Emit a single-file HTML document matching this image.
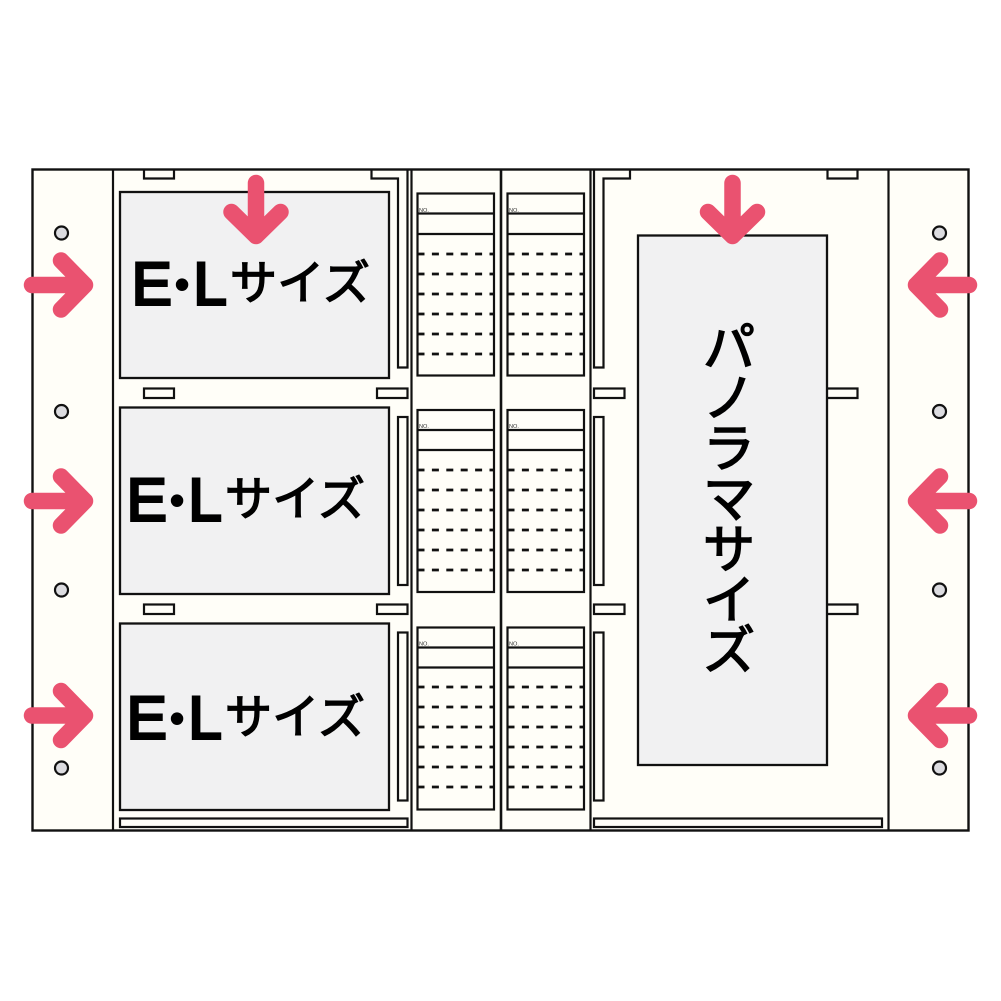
<!DOCTYPE html>
<html lang="ja"><head><meta charset="utf-8"><title>E・Lサイズ パノラマサイズ</title>
<style>
html,body{margin:0;padding:0;background:#fff}
svg{display:block}
.jp{font-family:"Liberation Sans","Noto Sans CJK JP",sans-serif;font-weight:400;fill:#000;stroke:#000;stroke-width:1.500px}
.el{font-family:"Liberation Sans",sans-serif;font-weight:400;font-size:60px;fill:#000;stroke:#000;stroke-width:3px;stroke-linejoin:miter}
.dot{font-family:"Liberation Sans",sans-serif;font-size:46px;fill:#000}
.no{font-family:"Liberation Sans",sans-serif;font-size:5.600px;fill:#333}
</style></head><body>
<svg width="1001" height="1001" viewBox="0 0 1001 1001" xmlns="http://www.w3.org/2000/svg">
<rect width="1001" height="1001" fill="#fff"/>
<rect x="32.5" y="169.5" width="936" height="661" fill="#fffef8" stroke="#111" stroke-width="2.400"/>
<g fill="none" stroke="#111" stroke-width="2.200">
<path d="M113 170V830M411.5 170V830M888.5 170V830M590.5 170V830"/>
<path d="M501 170V830" stroke-width="2.600"/>
</g>
<g fill="#f1f1f2" stroke="#111" stroke-width="2.300">
<rect x="120" y="192" width="269" height="186"/>
<rect x="120" y="407.5" width="269" height="186.5"/>
<rect x="120" y="623.5" width="269" height="186.5"/>
<rect x="638" y="235.5" width="189" height="529.5"/>
</g>
<g fill="#dcdce0" stroke="#111" stroke-width="2.200">
<circle cx="61.5" cy="233" r="6.500"/><circle cx="61.5" cy="411.5" r="6.500"/><circle cx="61.5" cy="590" r="6.500"/><circle cx="61.5" cy="768" r="6.500"/>
<circle cx="939.5" cy="233" r="6.500"/><circle cx="939.5" cy="411.5" r="6.500"/><circle cx="939.5" cy="590" r="6.500"/><circle cx="939.5" cy="768" r="6.500"/>
</g>
<g fill="none" stroke="#111" stroke-width="2.200">
<path d="M144 170V178.500H174V170"/>
<rect x="144" y="388.500" width="30" height="9.500"/>
<rect x="144" y="604.500" width="30" height="9.500"/>
<path d="M371.500 170V178.500H398V367.500H407.500V170"/>
<rect x="377" y="388.500" width="30.500" height="9.500"/>
<rect x="377" y="604.500" width="30.500" height="9.500"/>
<rect x="398" y="417" width="9.500" height="168"/>
<rect x="398" y="632.500" width="9.500" height="168"/>
<rect x="120" y="818.500" width="287.500" height="8.500"/>
<path d="M630 170V178.500H603.500V367.500H594V170"/>
<rect x="594" y="388.500" width="30.500" height="9.500"/>
<rect x="594" y="604.500" width="30.500" height="9.500"/>
<rect x="594" y="417" width="9.500" height="168"/>
<rect x="594" y="632.500" width="9.500" height="168"/>
<rect x="594" y="818.500" width="288" height="8.500"/>
<path d="M827.500 170V178.500H857.500V170"/>
<path d="M827 388.500H857.500V398H827"/>
<path d="M827 604.500H857.500V614H827"/>
<g>
<rect x="417.500" y="193.500" width="76.500" height="182"/>
<rect x="507.500" y="193.500" width="76.500" height="182"/>
<rect x="417.500" y="410" width="76.500" height="182"/>
<rect x="507.500" y="410" width="76.500" height="182"/>
<rect x="417.500" y="627.500" width="76.500" height="182"/>
<rect x="507.500" y="627.500" width="76.500" height="182"/>
<path d="M417.500 213.500H494M417.500 234H494M507.500 213.500H584M507.500 234H584"/>
<path d="M417.500 430H494M417.500 450H494M507.500 430H584M507.500 450H584"/>
<path d="M417.500 647.500H494M417.500 667.500H494M507.500 647.500H584M507.500 667.500H584"/>
</g>
<g stroke-dasharray="7 7.400" stroke-width="2.800">
<path d="M417.500 254H494M417.500 274H494M417.500 294H494M417.500 314H494M417.500 334H494M417.500 354H494"/>
<path d="M507.500 254H584M507.500 274H584M507.500 294H584M507.500 314H584M507.500 334H584M507.500 354H584"/>
<path d="M417.500 470H494M417.500 490H494M417.500 510H494M417.500 530H494M417.500 550H494M417.500 570H494"/>
<path d="M507.500 470H584M507.500 490H584M507.500 510H584M507.500 530H584M507.500 550H584M507.500 570H584"/>
<path d="M417.500 687H494M417.500 707H494M417.500 727H494M417.500 747H494M417.500 767H494M417.500 787H494"/>
<path d="M507.500 687H584M507.500 707H584M507.500 727H584M507.500 747H584M507.500 767H584M507.500 787H584"/>
</g>
</g>
<text class="no" x="419" y="212">NO.</text><text class="no" x="509" y="212">NO.</text>
<text class="no" x="419" y="428">NO.</text><text class="no" x="509" y="428">NO.</text>
<text class="no" x="419" y="645.500">NO.</text><text class="no" x="509" y="645.500">NO.</text>
<text class="el" x="131.800" y="304.700">E</text><text class="dot" x="174" y="300">•</text><text class="el" x="193.400" y="304.700">L</text>
<text class="jp" x="230" y="299.500" font-size="47" textLength="140" lengthAdjust="spacing">サイズ</text>
<text class="el" x="126.800" y="520.700">E</text><text class="dot" x="169" y="516">•</text><text class="el" x="188.400" y="520.700">L</text>
<text class="jp" x="225" y="515.500" font-size="47" textLength="140" lengthAdjust="spacing">サイズ</text>
<text class="el" x="126.800" y="738.700">E</text><text class="dot" x="169" y="734">•</text><text class="el" x="188.400" y="738.700">L</text>
<text class="jp" x="225" y="733.500" font-size="47" textLength="140" lengthAdjust="spacing">サイズ</text>
<g font-size="52" text-anchor="middle">
<text class="jp" x="729" y="366">パ</text>
<text class="jp" x="729" y="416.500">ノ</text>
<text class="jp" x="729" y="467">ラ</text>
<text class="jp" x="729" y="517.500">マ</text>
<text class="jp" x="729" y="568">サ</text>
<text class="jp" x="729" y="618.500">イ</text>
<text class="jp" x="729" y="669">ズ</text>
</g>
<g fill="none" stroke="#ea5270" stroke-width="16.500" stroke-linecap="round" stroke-linejoin="round">
<path d="M32 285H85M61 260.500L85 285L61 309.500"/>
<path d="M32 501H85M61 476.500L85 501L61 525.500"/>
<path d="M32 715.500H85M61 691L85 715.500L61 740"/>
<path d="M969 285H916M940 260.500L916 285L940 309.500"/>
<path d="M969 501H916M940 476.500L916 501L940 525.500"/>
<path d="M969 715.500H916M940 691L916 715.500L940 740"/>
<path d="M256 183V236M231.500 212L256 236L280.500 212"/>
<path d="M732.500 183V236M708 212L732.500 236L757 212"/>
</g>
</svg>
</body></html>
